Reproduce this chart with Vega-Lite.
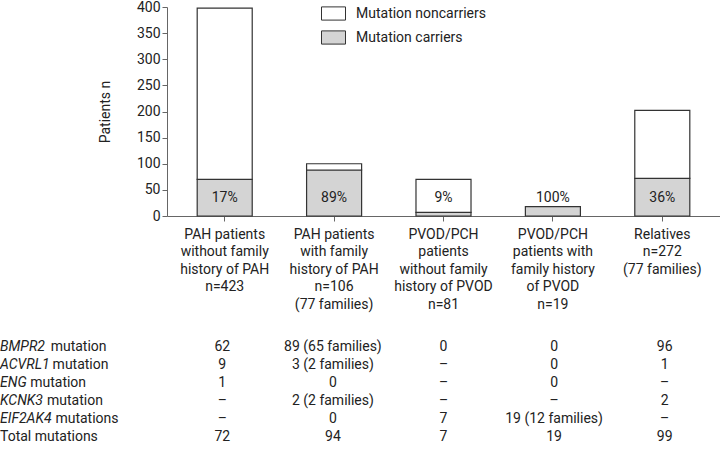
{
  "$schema": "https://vega.github.io/schema/vega-lite/v6.json",
  "padding": 0,
  "spacing": 27,
  "config": {
    "font": "Roboto",
    "view": {"stroke": null},
    "axis": {"labelFontSize": 14, "labelColor": "#222", "titleColor": "#222", "domainColor": "#666", "tickColor": "#666", "grid": false},
    "text": {"fontSize": 14, "color": "#222"}
  },
  "datasets": {
    "bars": [
      {"group": "PAH patients|without family|history of PAH|n=423", "status": "Mutation carriers", "n": 70},
      {"group": "PAH patients|without family|history of PAH|n=423", "status": "Mutation noncarriers", "n": 328},
      {"group": "PAH patients|with family|history of PAH|n=106|(77 families)", "status": "Mutation carriers", "n": 88},
      {"group": "PAH patients|with family|history of PAH|n=106|(77 families)", "status": "Mutation noncarriers", "n": 12},
      {"group": "PVOD/PCH|patients|without family|history of PVOD|n=81", "status": "Mutation carriers", "n": 7},
      {"group": "PVOD/PCH|patients|without family|history of PVOD|n=81", "status": "Mutation noncarriers", "n": 63},
      {"group": "PVOD/PCH|patients with|family history|of PVOD|n=19", "status": "Mutation carriers", "n": 18},
      {"group": "Relatives|n=272|(77 families)", "status": "Mutation carriers", "n": 72},
      {"group": "Relatives|n=272|(77 families)", "status": "Mutation noncarriers", "n": 130}
    ],
    "pct": [
      {"group": "PAH patients|without family|history of PAH|n=423", "pct": "17%"},
      {"group": "PAH patients|with family|history of PAH|n=106|(77 families)", "pct": "89%"},
      {"group": "PVOD/PCH|patients|without family|history of PVOD|n=81", "pct": "9%"},
      {"group": "PVOD/PCH|patients with|family history|of PVOD|n=19", "pct": "100%"},
      {"group": "Relatives|n=272|(77 families)", "pct": "36%"}
    ],
    "table": [
      {"row": "BMPR2", "group": "PAH patients|without family|history of PAH|n=423", "value": "62"},
      {"row": "BMPR2", "group": "PAH patients|with family|history of PAH|n=106|(77 families)", "value": "89 (65 families)"},
      {"row": "BMPR2", "group": "PVOD/PCH|patients|without family|history of PVOD|n=81", "value": "0"},
      {"row": "BMPR2", "group": "PVOD/PCH|patients with|family history|of PVOD|n=19", "value": "0"},
      {"row": "BMPR2", "group": "Relatives|n=272|(77 families)", "value": "96"},
      {"row": "ACVRL1", "group": "PAH patients|without family|history of PAH|n=423", "value": "9"},
      {"row": "ACVRL1", "group": "PAH patients|with family|history of PAH|n=106|(77 families)", "value": "3 (2 families)"},
      {"row": "ACVRL1", "group": "PVOD/PCH|patients|without family|history of PVOD|n=81", "value": "–"},
      {"row": "ACVRL1", "group": "PVOD/PCH|patients with|family history|of PVOD|n=19", "value": "0"},
      {"row": "ACVRL1", "group": "Relatives|n=272|(77 families)", "value": "1"},
      {"row": "ENG", "group": "PAH patients|without family|history of PAH|n=423", "value": "1"},
      {"row": "ENG", "group": "PAH patients|with family|history of PAH|n=106|(77 families)", "value": "0"},
      {"row": "ENG", "group": "PVOD/PCH|patients|without family|history of PVOD|n=81", "value": "–"},
      {"row": "ENG", "group": "PVOD/PCH|patients with|family history|of PVOD|n=19", "value": "0"},
      {"row": "ENG", "group": "Relatives|n=272|(77 families)", "value": "–"},
      {"row": "KCNK3", "group": "PAH patients|without family|history of PAH|n=423", "value": "–"},
      {"row": "KCNK3", "group": "PAH patients|with family|history of PAH|n=106|(77 families)", "value": "2 (2 families)"},
      {"row": "KCNK3", "group": "PVOD/PCH|patients|without family|history of PVOD|n=81", "value": "–"},
      {"row": "KCNK3", "group": "PVOD/PCH|patients with|family history|of PVOD|n=19", "value": "–"},
      {"row": "KCNK3", "group": "Relatives|n=272|(77 families)", "value": "2"},
      {"row": "EIF2AK4", "group": "PAH patients|without family|history of PAH|n=423", "value": "–"},
      {"row": "EIF2AK4", "group": "PAH patients|with family|history of PAH|n=106|(77 families)", "value": "0"},
      {"row": "EIF2AK4", "group": "PVOD/PCH|patients|without family|history of PVOD|n=81", "value": "7"},
      {"row": "EIF2AK4", "group": "PVOD/PCH|patients with|family history|of PVOD|n=19", "value": "19 (12 families)"},
      {"row": "EIF2AK4", "group": "Relatives|n=272|(77 families)", "value": "–"},
      {"row": "Total", "group": "PAH patients|without family|history of PAH|n=423", "value": "72"},
      {"row": "Total", "group": "PAH patients|with family|history of PAH|n=106|(77 families)", "value": "94"},
      {"row": "Total", "group": "PVOD/PCH|patients|without family|history of PVOD|n=81", "value": "7"},
      {"row": "Total", "group": "PVOD/PCH|patients with|family history|of PVOD|n=19", "value": "19"},
      {"row": "Total", "group": "Relatives|n=272|(77 families)", "value": "99"}
    ],
    "rowlabels": [
      {"row": "BMPR2", "gene": "BMPR2", "suffix": "mutation"},
      {"row": "ACVRL1", "gene": "ACVRL1", "suffix": "mutation"},
      {"row": "ENG", "gene": "ENG", "suffix": "mutation"},
      {"row": "KCNK3", "gene": "KCNK3", "suffix": "mutation"},
      {"row": "EIF2AK4", "gene": "EIF2AK4", "suffix": "mutations"},
      {"row": "Total", "gene": "", "suffix": "Total mutations"}
    ]
  },
  "vconcat": [
    {
      "width": 553,
      "height": 209,
      "layer": [
        {
          "data": {"name": "bars"},
          "mark": {"type": "bar", "stroke": "#333", "strokeWidth": 1.2},
          "encoding": {
            "x": {
              "field": "group", "type": "nominal", "sort": null,
              "scale": {"domain": ["PAH patients|without family|history of PAH|n=423", "PAH patients|with family|history of PAH|n=106|(77 families)", "PVOD/PCH|patients|without family|history of PVOD|n=81", "PVOD/PCH|patients with|family history|of PVOD|n=19", "Relatives|n=272|(77 families)"], "paddingInner": 0.497, "paddingOuter": 0.276},
              "axis": {"title": null, "labelExpr": "split(datum.label, '|')", "labelAngle": 0, "tickSize": 5, "labelPadding": 6, "labelLineHeight": 17.5, "labelBaseline": "top", "labelAlign": "center"}
            },
            "y": {
              "field": "n", "type": "quantitative", "stack": "zero",
              "scale": {"domain": [0, 400], "nice": false},
              "axis": {"title": "Patients n", "values": [0, 50, 100, 150, 200, 250, 300, 350, 400], "tickCount": 9, "labelOverlap": false, "tickSize": 5, "labelPadding": 2, "titlePadding": 24, "titleFontSize": 14, "titleFontWeight": "normal"}
            },
            "color": {
              "field": "status", "type": "nominal",
              "scale": {"domain": ["Mutation noncarriers", "Mutation carriers"], "range": ["#ffffff", "#d4d4d4"]},
              "legend": {"orient": "none", "legendX": 154, "legendY": -6, "title": null, "symbolType": "M-1,-0.55H1V0.55H-1Z", "symbolSize": 576, "symbolStrokeColor": "#333", "symbolStrokeWidth": 1, "labelFontSize": 14, "labelColor": "#222", "rowPadding": 2, "labelOffset": 10, "padding": 0}
            },
            "order": {"field": "status", "sort": "ascending"}
          }
        },
        {
          "data": {"name": "pct"},
          "mark": {"type": "text", "baseline": "middle"},
          "encoding": {
            "x": {"field": "group", "type": "nominal", "sort": null},
            "y": {"datum": 35, "type": "quantitative", "axis": {"title": "Patients n", "values": [0, 50, 100, 150, 200, 250, 300, 350, 400], "tickCount": 9, "labelOverlap": false, "tickSize": 5, "labelPadding": 2, "titlePadding": 24, "titleFontSize": 14, "titleFontWeight": "normal"}},
            "text": {"field": "pct"}
          }
        }
      ]
    },
    {
      "width": 553,
      "height": 108,
      "layer": [
        {
          "data": {"name": "table"},
          "mark": {"type": "text", "baseline": "middle"},
          "encoding": {
            "x": {
              "field": "group", "type": "nominal", "sort": null,
              "scale": {"domain": ["PAH patients|without family|history of PAH|n=423", "PAH patients|with family|history of PAH|n=106|(77 families)", "PVOD/PCH|patients|without family|history of PVOD|n=81", "PVOD/PCH|patients with|family history|of PVOD|n=19", "Relatives|n=272|(77 families)"], "paddingInner": 0.497, "paddingOuter": 0.276},
              "axis": null
            },
            "y": {"field": "row", "type": "nominal", "sort": null, "scale": {"domain": ["BMPR2", "ACVRL1", "ENG", "KCNK3", "EIF2AK4", "Total"], "type": "band", "paddingInner": 0, "paddingOuter": 0}, "axis": null},
            "text": {"field": "value"}
          }
        },
        {
          "data": {"name": "rowlabels"},
          "mark": {"type": "text", "align": "left", "baseline": "middle", "fontStyle": "italic"},
          "encoding": {
            "x": {"value": -167},
            "y": {"field": "row", "type": "nominal", "sort": null},
            "text": {"field": "gene"}
          }
        },
        {
          "data": {"name": "rowlabels"},
          "mark": {"type": "text", "align": "left", "baseline": "middle", "dx": {"expr": "datum.gene == '' ? 0 : 14 * (0.6 * length(datum.gene) - 0.5 * (length(datum.gene) - length(replace(datum.gene, regexp('I', 'g'), ''))) + 0.26 * (length(datum.gene) - length(replace(datum.gene, regexp('M', 'g'), ''))) - 0.1 * (length(datum.gene) - length(replace(datum.gene, regexp('[L1F]', 'g'), '')))) + 5"}},
          "encoding": {
            "x": {"value": -167},
            "y": {"field": "row", "type": "nominal", "sort": null},
            "text": {"field": "suffix"}
          }
        }
      ]
    }
  ]
}
